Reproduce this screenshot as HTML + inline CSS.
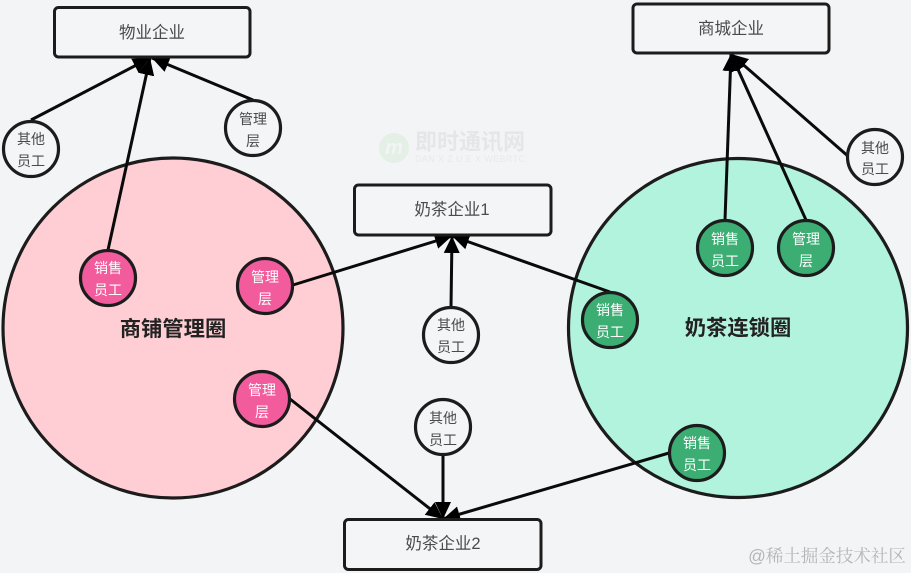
<!DOCTYPE html>
<html><head><meta charset="utf-8"><style>
html,body{margin:0;padding:0;background:#f3f4f6}
svg{display:block}
text{font-family:"Liberation Sans","Noto Sans CJK SC",sans-serif;text-anchor:middle;dominant-baseline:central}
.b{font-size:16.5px;fill:#4a4a4a;transform:translateY(1px)}
.s{font-size:14px;fill:#4a4a4a}
.w{font-size:14px;fill:#fff}
.t{font-size:21.3px;font-weight:700;fill:#222;transform:translateY(1px)}
.c{stroke:#1c1c1c;stroke-width:3.2}
.l{stroke:#0a0a0a;stroke-width:3;fill:none}
.r{fill:#f4f5f7;stroke:#1c1c1c;stroke-width:3}
</style></head><body>
<svg width="911" height="573" viewBox="0 0 911 573" xmlns="http://www.w3.org/2000/svg">
<rect width="911" height="573" fill="#f3f4f6"/>
<defs>
<marker id="a" markerUnits="userSpaceOnUse" markerWidth="20" markerHeight="20" refX="17" refY="10" orient="auto"><path d="M0,2 L17,10 L0,18 Z" fill="#000"/></marker>
</defs>

<!-- watermark -->
<g opacity=".75">
<circle cx="394" cy="148" r="15" fill="#dfeee0"/>
<text x="394" y="148" style="font-size:20px;font-style:italic;font-weight:700;fill:#f3f4f6">m</text>
<text x="470" y="142" style="font-size:22px;font-weight:700;fill:#e0e2e4">即时通讯网</text>
<text x="470" y="159" style="font-size:9px;fill:#e4e6e7" textLength="110">DAN X Z U E X WEBRTC</text>
</g>

<!-- large circles -->
<circle cx="173" cy="328" r="170" fill="#ffced5" class="c"/>
<circle cx="738" cy="328" r="169.5" fill="#b2f3de" class="c"/>

<!-- connectors -->
<line class="l" x1="31" y1="120" x2="150" y2="58" marker-end="url(#a)"/>
<line class="l" x1="108" y1="250" x2="150" y2="58" marker-end="url(#a)"/>
<line class="l" x1="253" y1="100" x2="152" y2="58" marker-end="url(#a)"/>
<line class="l" x1="293" y1="285" x2="452" y2="236" marker-end="url(#a)"/>
<line class="l" x1="451" y1="307" x2="452" y2="236" marker-end="url(#a)"/>
<line class="l" x1="610" y1="292" x2="452" y2="236" marker-end="url(#a)"/>
<line class="l" x1="290" y1="399" x2="443" y2="519" marker-end="url(#a)"/>
<line class="l" x1="443" y1="455" x2="443" y2="519" marker-end="url(#a)"/>
<line class="l" x1="669" y1="453" x2="443" y2="519" marker-end="url(#a)"/>
<line class="l" x1="725" y1="220" x2="731" y2="54" marker-end="url(#a)"/>
<line class="l" x1="806" y1="220" x2="731" y2="54" marker-end="url(#a)"/>
<line class="l" x1="849" y1="157" x2="731" y2="54" marker-end="url(#a)"/>

<!-- boxes -->
<rect class="r" x="54.5" y="7.5" width="195.5" height="49.5" rx="4"/>
<text class="b" x="152" y="32">物业企业</text>
<rect class="r" x="633" y="4" width="196" height="49" rx="4"/>
<text class="b" x="731" y="28">商城企业</text>
<rect class="r" x="354.5" y="185" width="196.5" height="50" rx="4"/>
<text class="b" x="452" y="209">奶茶企业1</text>
<rect class="r" x="344.5" y="519.5" width="196.5" height="50" rx="4"/>
<text class="b" x="443" y="543">奶茶企业2</text>

<!-- titles -->
<text class="t" x="173" y="328">商铺管理圈</text>
<text class="t" x="738" y="327">奶茶连锁圈</text>

<!-- white nodes -->
<g fill="#f4f5f7" class="c">
<circle cx="31" cy="149" r="27.5"/>
<circle cx="253" cy="128" r="27.5"/>
<circle cx="451" cy="335" r="27.5"/>
<circle cx="443" cy="427" r="27.5"/>
<circle cx="875" cy="157" r="27.5"/>
</g>
<text class="s" x="31" y="139">其他</text><text class="s" x="31" y="161">员工</text>
<text class="s" x="253" y="119">管理</text><text class="s" x="253" y="141">层</text>
<text class="s" x="451" y="325">其他</text><text class="s" x="451" y="347">员工</text>
<text class="s" x="443" y="418">其他</text><text class="s" x="443" y="440">员工</text>
<text class="s" x="875" y="148">其他</text><text class="s" x="875" y="169">员工</text>

<!-- pink nodes -->
<g fill="#f25c9d" class="c">
<circle cx="108" cy="278" r="27.5"/>
<circle cx="265" cy="286" r="27.5"/>
<circle cx="262" cy="399" r="27.5"/>
</g>
<text class="w" x="108" y="268">销售</text><text class="w" x="108" y="290">员工</text>
<text class="w" x="265" y="277">管理</text><text class="w" x="265" y="299">层</text>
<text class="w" x="262" y="390">管理</text><text class="w" x="262" y="412">层</text>

<!-- green nodes -->
<g fill="#3cae73" class="c">
<circle cx="725" cy="248" r="27.5"/>
<circle cx="806" cy="248" r="27.5"/>
<circle cx="610" cy="320" r="27.5"/>
<circle cx="697" cy="453" r="27.5"/>
</g>
<text class="w" x="725" y="239">销售</text><text class="w" x="725" y="261">员工</text>
<text class="w" x="806" y="239">管理</text><text class="w" x="806" y="261">层</text>
<text class="w" x="610" y="310">销售</text><text class="w" x="610" y="332">员工</text>
<text class="w" x="697" y="443">销售</text><text class="w" x="697" y="465">员工</text>

<!-- watermark bottom -->
<text x="827" y="556" style="font-size:17.5px;fill:#b5b5b5;font-family:'Liberation Sans','Noto Serif CJK SC',serif">@稀土掘金技术社区</text>
</svg>
</body></html>
